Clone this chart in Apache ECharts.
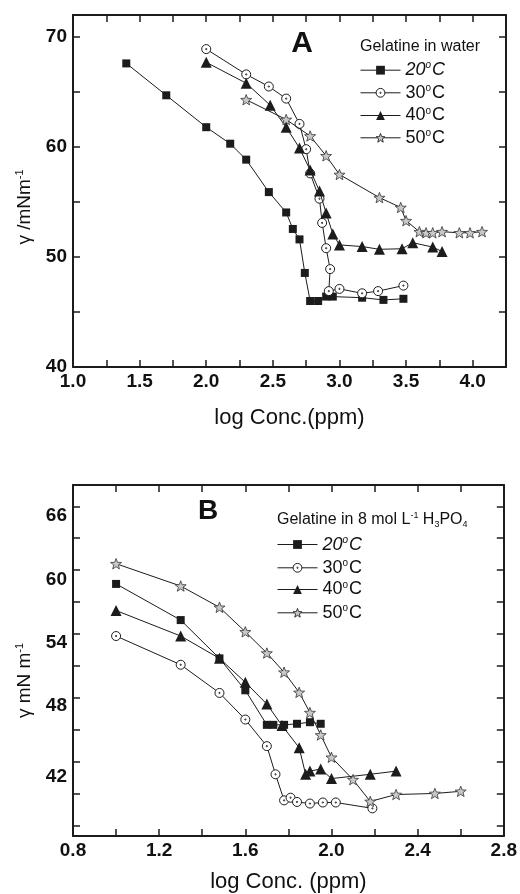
<!DOCTYPE html>
<html><head><meta charset="utf-8">
<script src="https://cdn.jsdelivr.net/npm/echarts@6/dist/echarts.min.js"></script>
<style>html,body{margin:0;padding:0;background:#fff}#c{width:520px;height:894px}</style>
</head><body><div id="c"></div>
<script>
// ---------- DATA ----------
const seriesNames = ['20°C', '30°C', '40°C', '50°C'];

// Panel A: Gelatine in water  [log conc (ppm), gamma (mN/m)]
const a20 = [[1.40,67.6],[1.70,64.7],[2.00,61.8],[2.18,60.3],[2.30,58.85],[2.47,55.9],[2.60,54.05],[2.65,52.55],[2.70,51.6],[2.74,48.55],[2.78,46.0],[2.84,46.0],[2.90,46.4],[2.95,46.4],[3.17,46.3],[3.33,46.1],[3.48,46.2]];
const a30 = [[2.00,68.9],[2.30,66.6],[2.47,65.5],[2.60,64.4],[2.70,62.1],[2.75,59.8],[2.78,57.6],[2.85,55.3],[2.87,53.1],[2.90,50.8],[2.93,48.9],[2.92,46.9],[3.00,47.1],[3.17,46.7],[3.29,46.9],[3.48,47.4]];
const a40 = [[2.00,67.7],[2.30,65.8],[2.48,63.8],[2.60,61.8],[2.70,59.9],[2.78,57.9],[2.85,56.0],[2.90,54.0],[2.95,52.1],[3.00,51.1],[3.17,50.95],[3.30,50.7],[3.47,50.75],[3.55,51.3],[3.70,50.9],[3.77,50.5]];
const a50 = [[2.30,64.3],[2.60,62.5],[2.78,61.0],[2.90,59.2],[3.00,57.5],[3.30,55.4],[3.46,54.5],[3.50,53.3],[3.60,52.3],[3.65,52.2],[3.70,52.2],[3.77,52.3],[3.90,52.2],[3.98,52.2],[4.07,52.3]];

// Panel B: Gelatine in 8 mol/L H3PO4
const b20 = [[1.00,58.7],[1.30,55.3],[1.48,51.7],[1.60,48.7],[1.70,45.45],[1.73,45.45],[1.78,45.45],[1.84,45.55],[1.90,45.7],[1.95,45.55]];
const b30 = [[1.00,53.8],[1.30,51.1],[1.48,48.45],[1.60,45.95],[1.70,43.45],[1.74,40.8],[1.78,38.35],[1.81,38.6],[1.84,38.2],[1.90,38.05],[1.96,38.15],[2.02,38.15],[2.19,37.6]];
const b40 = [[1.00,56.2],[1.30,53.8],[1.48,51.7],[1.60,49.45],[1.70,47.4],[1.77,45.4],[1.85,43.3],[1.88,40.8],[1.90,41.1],[1.95,41.3],[2.00,40.4],[2.18,40.8],[2.30,41.1]];
const b50 = [[1.00,60.6],[1.30,58.5],[1.48,56.5],[1.60,54.2],[1.70,52.2],[1.78,50.4],[1.85,48.5],[1.90,46.6],[1.95,44.5],[2.00,42.4],[2.10,40.3],[2.18,38.25],[2.30,38.9],[2.48,39.0],[2.60,39.2]];

// Axis ticks / labels
const xTicksA = [1.0,1.25,1.5,1.75,2.0,2.25,2.5,2.75,3.0,3.25,3.5,3.75,4.0];
const xLabelsA = [1.0,1.5,2.0,2.5,3.0,3.5,4.0];
const yTicksA = [40,45,50,55,60,65,70];
const yLabelsA = [40,50,60,70];
const xTicksB = [0.8,1.0,1.2,1.4,1.6,1.8,2.0,2.2,2.4,2.6,2.8];
const xLabelsB = [0.8,1.2,1.6,2.0,2.4,2.8];
const yTicksB = [36,39,42,45,48,51,54,57,60,63,66];
const yLabelsB = [42,48,54,60,66];

// ---------- STYLE ----------
const FF = "'Liberation Sans', Arial, Helvetica, sans-serif";
const INK = '#1c1c1c';
const SYM_CIRCLE = 'path://M0,-5A5,5,0,1,1,0,5A5,5,0,1,1,0,-5ZM0,-0.7A0.7,0.7,0,1,1,0,0.7A0.7,0.7,0,1,1,0,-0.7Z';
const SYM_STAR = 'path://M0,-10L2.47,-3.4L9.51,-3.09L3.99,1.3L5.88,8.09L0,4.2L-5.88,8.09L-3.99,1.3L-9.51,-3.09L-2.47,-3.4Z';
const markerStyles = [
  {symbol:'rect', symbolSize:8, itemStyle:{color:INK}},
  {symbol:SYM_CIRCLE, symbolSize:9, itemStyle:{color:'#fff', borderColor:INK, borderWidth:1}},
  {symbol:'triangle', symbolSize:11, itemStyle:{color:INK}},
  {symbol:SYM_STAR, symbolSize:11, symbolKeepAspect:true, itemStyle:{color:'#c8c8c8', borderColor:'#333', borderWidth:0.8}}
];

function mkSeries(data, idx, axisBase) {
  const m = markerStyles[idx];
  return Object.assign({
    type:'line', name:seriesNames[idx], data:data,
    xAxisIndex:axisBase, yAxisIndex:axisBase,
    showSymbol:true, showAllSymbol:true, symbolKeepAspect: !!m.symbolKeepAspect,
    lineStyle:{color:INK, width:1},
    animation:false, z:2+idx
  }, m);
}

const tickLab = {fontFamily:FF, fontWeight:'bold', fontSize:19, color:'#111'};
function xAxes(gi, min, max, ticks, labels, name, gap) {
  const line = {show:true, onZero:false, lineStyle:{color:INK, width:2}};
  const tick = {show:true, inside:true, length:7, lineStyle:{color:INK, width:1.5}, customValues:ticks};
  return [
    {type:'value', gridIndex:gi, position:'bottom', min:min, max:max,
     axisLine:line, axisTick:tick, splitLine:{show:false},
     axisLabel:Object.assign({show:true, margin:5, customValues:labels, formatter:v=>v.toFixed(1)}, tickLab),
     name:name, nameLocation:'middle', nameGap:gap,
     nameTextStyle:{fontFamily:FF, fontSize:22, color:'#111'}},
    {type:'value', gridIndex:gi, position:'top', min:min, max:max,
     axisLine:line, axisTick:tick, splitLine:{show:false}, axisLabel:{show:false}}
  ];
}
function yAxes(gi, min, max, ticks, labels, nameRich, nameText, padR, labelFmt, labelRich) {
  const line = {show:true, onZero:false, lineStyle:{color:INK, width:2}};
  const tick = {show:true, inside:true, length:7, lineStyle:{color:INK, width:1.5}, customValues:ticks};
  const lab = Object.assign({show:true, margin:6, customValues:labels}, tickLab);
  if (labelFmt) { lab.formatter = labelFmt; lab.rich = labelRich; }
  return [
    {type:'value', gridIndex:gi, position:'left', min:min, max:max,
     axisLine:line, axisTick:tick, splitLine:{show:false}, axisLabel:lab,
     name:nameText, nameLocation:'middle', nameGap:38,
     nameTextStyle:{fontFamily:FF, fontSize:19, color:'#111', rich:nameRich, padding:[0,padR,0,0]}},
    {type:'value', gridIndex:gi, position:'right', min:min, max:max,
     axisLine:line, axisTick:tick, splitLine:{show:false}, axisLabel:{show:false}}
  ];
}

const nameRich = {
  n:{fontFamily:FF, fontSize:19, color:'#111'},
  s:{fontFamily:FF, fontSize:11, color:'#111', padding:[0,0,10,0]}
};
// Panel B tick labels sit slightly below their ticks in the reference
const offB = {66:19, 60:19, 54:17, 48:16, 42:30};
const richB = {};
yLabelsB.forEach(v => { richB['o'+v] = Object.assign({padding:[offB[v],0,0,0]}, tickLab); });

const legRich = {
  it:{fontFamily:FF, fontSize:18, fontStyle:'italic', color:'#111'},
  n:{fontFamily:FF, fontSize:18, color:'#111'},
  si:{fontFamily:FF, fontSize:10, fontStyle:'italic', color:'#111', padding:[0,1,9,0]},
  s:{fontFamily:FF, fontSize:10, color:'#111', padding:[0,1,9,0]}
};
function legFmt(name) {
  const num = name.slice(0,2);
  return name === '20°C' ? '{it|'+num+'}{si|o}{it|C}' : '{n|'+num+'}{s|o}{n|C}';
}
function legends(left, centers) {
  return seriesNames.map((nm, i) => ({
    data:[nm], left:left, top:centers[i]-10, orient:'vertical', padding:0,
    itemWidth:40, itemHeight:11, selectedMode:false, formatter:legFmt,
    itemStyle:{borderWidth:1},
    lineStyle:{width:1, color:INK},
    textStyle:{rich:legRich, fontFamily:FF, fontSize:18, color:'#111'}
  }));
}

const option = {
  backgroundColor:'#fff',
  animation:false,
  grid:[
    {left:73, top:15, width:433, height:352},
    {left:73, top:485, width:433, height:353}
  ],
  xAxis:[].concat(
    xAxes(0, 1.0, 4.25, xTicksA, xLabelsA, 'log Conc.(ppm)', 40),
    xAxes(1, 0.8, 2.8, xTicksB, xLabelsB, 'log Conc. (ppm)', 35)
  ),
  yAxis:[].concat(
    yAxes(0, 40, 72, yTicksA, yLabelsA, nameRich, '{n|γ /mNm}{s|-1}', 32),
    yAxes(1, 35, 68, yTicksB, yLabelsB, nameRich, '{n|γ mN m}{s|-1}', 40,
          v => '{o'+v+'|'+v+'}', richB)
  ),
  legend:[].concat(
    legends(360, [70.7, 93.3, 116, 138.3]),
    legends(277, [545, 568.3, 590, 613.3])
  ),
  graphic:[
    {type:'text', x:302, y:44, style:{text:'A', font:"bold 30px "+FF, fill:'#111', align:'center', verticalAlign:'middle'}},
    {type:'text', x:208, y:511, style:{text:'B', font:"bold 28px "+FF, fill:'#111', align:'center', verticalAlign:'middle'}},
    {type:'text', x:360, y:47, style:{text:'Gelatine in water', font:"16px "+FF, fill:'#111', align:'left', verticalAlign:'middle'}},
    {type:'text', x:277, y:520, style:{
      text:'{n|Gelatine in 8 mol L}{p|-1}{n| H}{b|3}{n|PO}{b|4}', align:'left', verticalAlign:'middle',
      rich:{
        n:{fontFamily:FF, fontSize:16, fill:'#111'},
        p:{fontFamily:FF, fontSize:9, fill:'#111', padding:[0,0,9,0]},
        b:{fontFamily:FF, fontSize:9, fill:'#111', padding:[9,0,0,0]}
      }}}
  ],
  series:[
    mkSeries(a20,0,0), mkSeries(a30,1,0), mkSeries(a40,2,0), mkSeries(a50,3,0),
    mkSeries(b20,0,2), mkSeries(b30,1,2), mkSeries(b40,2,2), mkSeries(b50,3,2)
  ]
};
const chart = echarts.init(document.getElementById('c'), null, {renderer:'canvas'});
chart.setOption(option);
</script>
</body></html>
